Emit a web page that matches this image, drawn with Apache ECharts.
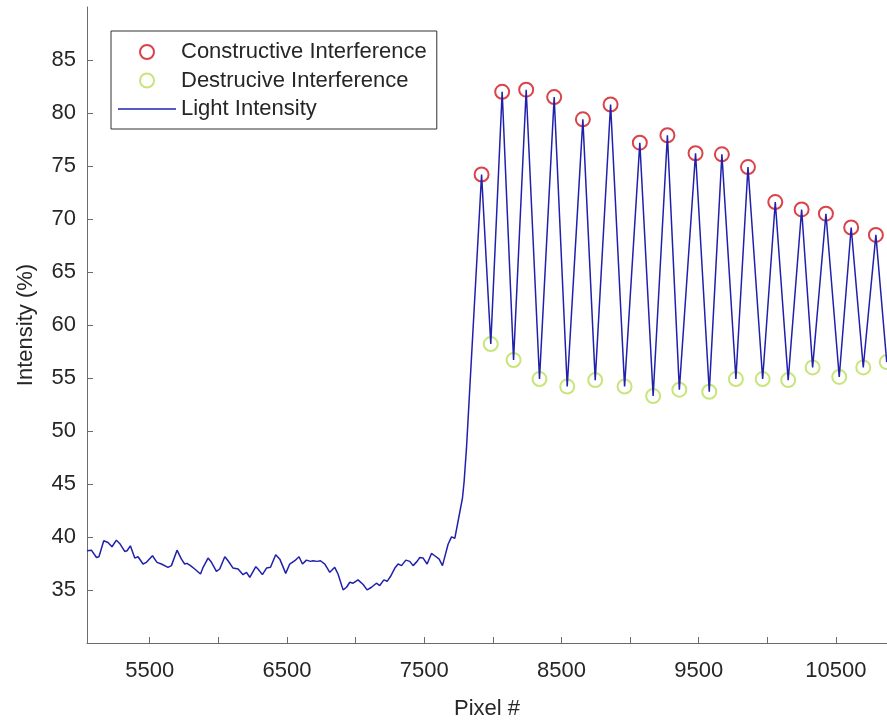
<!DOCTYPE html>
<html>
<head>
<meta charset="utf-8">
<script src="https://cdn.jsdelivr.net/npm/echarts@6/dist/echarts.min.js"></script>
<style>html,body{margin:0;padding:0;background:#fff}#c{width:887px;height:724px}</style>
</head>
<body>
<div id="c"></div>
<script>
// Baseline / rising part of the light-intensity trace (pixel #, intensity %)
const baseX = [5043,5075,5112,5130,5165,5196,5225,5257,5281,5318,5335,5359,5391,5415,5451,5476,5520,5553,5585,5633,5658,5699,5731,5755,5772,5797,5828,5870,5889,5925,5950,5986,6010,6047,6071,6107,6144,6180,6205,6229,6273,6289,6321,6351,6380,6418,6448,6491,6520,6557,6588,6613,6642,6671,6690,6719,6744,6776,6812,6848,6872,6909,6934,6958,6982,7018,7055,7084,7116,7152,7176,7206,7230,7254,7286,7310,7335,7366,7395,7419,7448,7468,7492,7521,7553,7577,7609,7633,7674,7699,7723,7754,7779,7791,7808];
const baseY = [38.70,38.76,38.07,38.14,39.64,39.48,39.08,39.70,39.39,38.64,38.70,39.17,38.01,38.14,37.45,37.61,38.23,37.61,37.45,37.14,37.30,38.76,37.91,37.45,37.51,37.30,36.98,36.51,37.14,38.01,37.61,36.76,36.98,38.14,37.76,37.07,36.98,36.45,36.67,36.20,37.20,36.98,36.45,37.07,37.14,38.33,37.91,36.57,37.45,37.76,38.14,37.45,37.82,37.70,37.76,37.70,37.76,37.45,36.67,37.14,36.51,35.01,35.26,35.73,35.64,35.95,35.52,35.01,35.26,35.64,35.42,35.95,35.82,36.27,37.07,37.45,37.30,37.82,37.70,37.30,37.70,38.07,38.01,37.45,38.45,38.23,37.91,37.30,39.32,40.01,39.88,41.98,43.70,45.26,48.38];
// Constructive interference (peaks)
const peakX = [7918,8068,8243,8447,8656,8858,9071,9272,9477,9669,9859,10058,10250,10427,10611,10791];
const peakY = [74.2,82.0,82.2,81.5,79.4,80.8,77.2,77.9,76.2,76.1,74.9,71.6,70.9,70.5,69.2,68.5];
// Destructive interference (troughs)
const troughX = [7985,8151,8340,8542,8746,8960,9168,9359,9577,9771,9966,10152,10330,10524,10699,10870];
const troughY = [58.2,56.7,54.9,54.2,54.8,54.2,53.3,53.9,53.7,54.9,54.9,54.8,56.0,55.1,56.0,56.5];
// Axis ticks
const xTicks = [5500,6000,6500,7000,7500,8000,8500,9000,9500,10000,10500];
const xTickLabels = [5500,6500,7500,8500,9500,10500];
const yTicks = [35,40,45,50,55,60,65,70,75,80,85];

const lineData = [];
for (let i = 0; i < baseX.length; i++) lineData.push([baseX[i], baseY[i]]);
const ext = [];
for (let i = 0; i < peakX.length; i++) ext.push([peakX[i], peakY[i]]);
for (let i = 0; i < troughX.length; i++) ext.push([troughX[i], troughY[i]]);
ext.sort((a, b) => a[0] - b[0]);
ext.forEach(p => lineData.push(p));

const FONT = 'Liberation Sans';
const TXT = '#262626';
const AX = '#6b6b6b';
const RED = '#d0141c';
const GRN = '#b9de5a';
const BLUE = '#2020ad';

const chart = echarts.init(document.getElementById('c'), null, {renderer: 'canvas'});
chart.setOption({
  animation: false,
  backgroundColor: '#ffffff',
  textStyle: {fontFamily: FONT, color: TXT},
  grid: {left: 87, top: 7, right: 0, bottom: 81, containLabel: false, outerBoundsMode: 'none'},
  legend: {
    orient: 'vertical',
    left: 111, top: 31,
    padding: [10, 10, 9, 7],
    itemWidth: 58, itemHeight: 14, itemGap: 6.5,
    borderColor: '#333', borderWidth: 1, backgroundColor: '#fff',
    textStyle: {fontFamily: FONT, fontSize: 22, color: TXT},
    data: [
      {name: 'Constructive Interference', icon: 'circle', itemStyle: {color: 'rgba(255,255,255,0)', borderColor: RED, borderWidth: 2}},
      {name: 'Destrucive Interference', icon: 'circle', itemStyle: {color: 'rgba(255,255,255,0)', borderColor: GRN, borderWidth: 2}},
      {name: 'Light Intensity', icon: 'path://M0,0L58,0L58,1.4L0,1.4Z', itemStyle: {color: BLUE, borderWidth: 0}}
    ]
  },
  xAxis: {
    type: 'value', min: 5043, max: 10872,
    name: 'Pixel #', nameLocation: 'middle', nameGap: 55,
    nameTextStyle: {fontFamily: FONT, fontSize: 22, color: TXT},
    axisLine: {show: true, onZero: false, lineStyle: {color: AX, width: 1}},
    axisTick: {show: true, inside: true, length: 6, customValues: xTicks, lineStyle: {color: AX}},
    axisLabel: {customValues: xTickLabels, margin: 17, fontFamily: FONT, fontSize: 22, color: TXT,
      formatter: v => String(v)},
    splitLine: {show: false}
  },
  yAxis: {
    type: 'value', min: 30, max: 90,
    name: 'Intensity (%)', nameLocation: 'middle', nameGap: 50,
    nameTextStyle: {fontFamily: FONT, fontSize: 22, color: TXT},
    axisLine: {show: true, onZero: false, lineStyle: {color: AX, width: 1}},
    axisTick: {show: true, inside: true, length: 6, customValues: yTicks, lineStyle: {color: AX}},
    axisLabel: {customValues: yTicks, margin: 11, fontFamily: FONT, fontSize: 22, color: TXT,
      formatter: v => String(v)},
    splitLine: {show: false}
  },
  series: [
    {
      name: 'Constructive Interference', type: 'scatter', symbol: 'circle', symbolSize: 14,
      itemStyle: {color: 'rgba(255,255,255,0)', borderColor: RED, borderWidth: 2},
      data: peakX.map((x, i) => [x, peakY[i]]), z: 2
    },
    {
      name: 'Destrucive Interference', type: 'scatter', symbol: 'circle', symbolSize: 14,
      itemStyle: {color: 'rgba(255,255,255,0)', borderColor: GRN, borderWidth: 2},
      data: troughX.map((x, i) => [x, troughY[i]]), z: 2
    },
    {
      name: 'Light Intensity', type: 'line', symbol: 'none', showSymbol: false,
      lineStyle: {color: BLUE, width: 1.5}, itemStyle: {color: BLUE},
      data: lineData, z: 3
    }
  ]
});
</script>
</body>
</html>
